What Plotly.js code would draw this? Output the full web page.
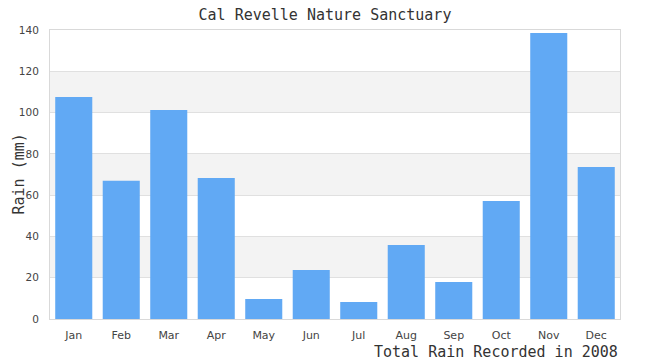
<!DOCTYPE html>
<html><head><meta charset="utf-8">
<script src="https://cdn.plot.ly/plotly-3.0.1.min.js"></script>
<style>body{margin:0;background:#fff}#c{width:650px;height:360px}</style>
</head><body><div id="c"></div>
<script>
const months = ["Jan","Feb","Mar","Apr","May","Jun","Jul","Aug","Sep","Oct","Nov","Dec"];
const rain = [107.5, 67, 101.3, 68.3, 9.7, 23.7, 8.2, 35.9, 17.9, 57.2, 138.6, 73.6];
const yTicks = [0,20,40,60,80,100,120,140];

const shapes = [];
for (let i = 1; i < yTicks.length - 1; i += 2) {
  shapes.push({type:'rect', xref:'paper', yref:'y', x0:0, x1:1, y0:yTicks[i], y1:yTicks[i+1],
    fillcolor:'#f3f3f3', line:{width:0}, layer:'below'});
}

const trace = {type:'bar', x: months, y: rain, marker:{color:'#61a9f4'}, hoverinfo:'x+y'};

const layout = {
  width:650, height:360,
  margin:{l:50, r:30, t:30, b:41},
  paper_bgcolor:'#fff', plot_bgcolor:'rgba(0,0,0,0)',
  bargap:0.22,
  showlegend:false,
  title:{text:'Cal Revelle Nature Sanctuary', x:0.5, xanchor:'center', y:0.96, yanchor:'middle',
    font:{family:'DejaVu Sans Mono, monospace', size:15, color:'#333'}},
  xaxis:{showgrid:false, showline:true, linecolor:'#d9d9d9', mirror:true,
    ticks:'outside', ticklen:6, tickcolor:'rgba(0,0,0,0)',
    tickfont:{family:'DejaVu Sans, sans-serif', size:11, color:'#444'}},
  yaxis:{range:[0,140], tickvals:yTicks, showgrid:true, gridcolor:'#e0e0e0', zeroline:false,
    showline:true, linecolor:'#d9d9d9', mirror:true,
    ticks:'outside', ticklen:8, tickcolor:'rgba(0,0,0,0)',
    tickfont:{family:'DejaVu Sans, sans-serif', size:10.5, color:'#444'}},
  shapes: shapes,
  annotations:[
    {text:'Total Rain Recorded in 2008', xref:'paper', yref:'paper', x:1, y:0,
      xanchor:'right', yanchor:'top', yshift:-22, showarrow:false,
      font:{family:'DejaVu Sans Mono, monospace', size:15, color:'#333'}},
    {text:'Rain (mm)', xref:'paper', yref:'paper', x:0, y:0.5, textangle:-90,
      xanchor:'center', yanchor:'middle', xshift:-32, showarrow:false,
      font:{family:'DejaVu Sans Mono, monospace', size:15, color:'#333'}}
  ]
};
Plotly.newPlot('c', [trace], layout, {displayModeBar:false, staticPlot:true});
</script></body></html>
